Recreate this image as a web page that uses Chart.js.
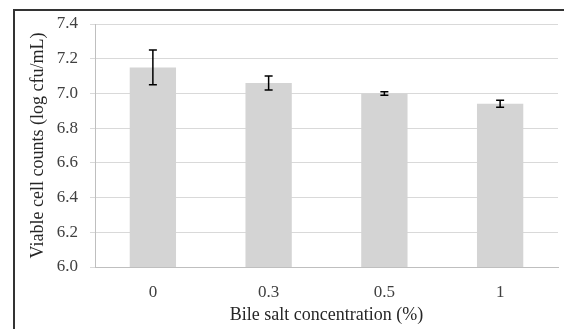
<!DOCTYPE html>
<html>
<head>
<meta charset="utf-8">
<script src="https://cdn.jsdelivr.net/npm/chart.js@4"></script>
<style>
  html, body { margin: 0; padding: 0; background: #fff; }
  #wrap { position: relative; width: 564px; height: 329px; }
  #frame { position: absolute; left: 13px; top: 9px; right: 0; bottom: 0;
           border-top: 2px solid #333; border-left: 2px solid #333; pointer-events: none; }
</style>
</head>
<body>
<div id="wrap">
  <canvas id="chart" width="564" height="329"></canvas>
  <div id="frame"></div>
</div>
<script>
const categories = ['0', '0.3', '0.5', '1'];
const cellCounts = [7.15, 7.06, 7.00, 6.94];
const errors = [0.10, 0.04, 0.01, 0.02];
const yTicks = [6.0, 6.2, 6.4, 6.6, 6.8, 7.0, 7.2, 7.4];

// error bars drawn through the y scale
const errorBars = {
    id: 'errorBars',
    afterDatasetsDraw(chart){
        const ctx = chart.ctx;
        const y = chart.scales.y;
        const meta = chart.getDatasetMeta(0);
        ctx.save();
        ctx.strokeStyle = '#000';
        ctx.lineWidth = 1.5;
        meta.data.forEach((bar, i) => {
            const top = y.getPixelForValue(cellCounts[i] + errors[i]);
            const bot = y.getPixelForValue(cellCounts[i] - errors[i]);
            ctx.beginPath();
            ctx.moveTo(bar.x, top); ctx.lineTo(bar.x, bot);
            ctx.moveTo(bar.x - 4, top); ctx.lineTo(bar.x + 4, top);
            ctx.moveTo(bar.x - 4, bot); ctx.lineTo(bar.x + 4, bot);
            ctx.stroke();
        });
        ctx.restore();
    }
};

const serif = "'Liberation Serif', 'Times New Roman', serif";

new Chart(document.getElementById('chart').getContext('2d'), {
    type: 'bar',
    data: {
        labels: categories,
        datasets: [{ data: cellCounts, backgroundColor: '#d4d4d4', borderWidth: 0,
                     barPercentage: 0.4, categoryPercentage: 1 }]
    },
    options: {
        responsive: false,
        animation: false,
        layout: { padding: { top: 24, right: 6, left: 0, bottom: 0 } },
        plugins: { legend: { display: false }, tooltip: { enabled: false } },
        scales: {
            x: {
                grid: { display: false, drawTicks: false },
                border: { display: true, color: '#bfbfbf' },
                ticks: { color: '#404040', padding: 15, font: { family: serif, size: 17 } },
                title: { display: true, text: 'Bile salt concentration (%)', color: '#262626',
                         padding: { top: 0, bottom: 3 }, font: { family: serif, size: 18 } },
                afterFit(s){ s.height = 62; }
            },
            y: {
                min: 6.0, max: 7.4,
                afterBuildTicks(s){ s.ticks = yTicks.map(v => ({ value: v })); },
                grid: { color: '#d9d9d9', tickLength: 5 },
                border: { display: true, color: '#bfbfbf' },
                ticks: { color: '#404040', padding: 12, font: { family: serif, size: 17 },
                         callback: v => v.toFixed(1) },
                title: { display: true, text: 'Viable cell counts (log cfu/mL)', color: '#262626',
                         padding: { top: 27, bottom: 0 }, font: { family: serif, size: 18 } },
                afterFit(s){ s.width = 95; }
            }
        }
    },
    plugins: [errorBars]
});
</script>
</body>
</html>
